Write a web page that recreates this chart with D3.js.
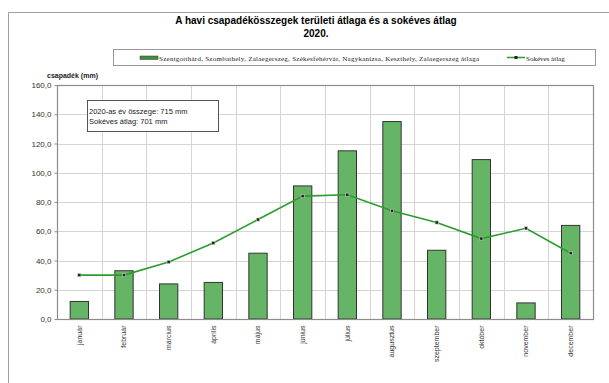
<!DOCTYPE html>
<html lang="hu">
<head>
<meta charset="utf-8">
<title>Havi csapadékösszegek 2020</title>
<script src="https://cdnjs.cloudflare.com/ajax/libs/d3/7.8.5/d3.min.js"></script>
<style>
  body { margin: 0; background: #fff; }
  svg { display: block; }
  .grid line { stroke: #d4d4d4; stroke-width: 1; }
  .y-axis text { font: 8px "Liberation Sans", Arial, sans-serif; fill: #333; }
  .x-axis text { font: 7px "Liberation Sans", Arial, sans-serif; fill: #333; }
</style>
</head>
<body>
<div id="chart"></div>
<script>
// data
const months = ["január", "február", "március", "április", "május", "június",
  "július", "augusztus", "szeptember", "október", "november", "december"];
const rain2020 = [12, 33, 24, 25, 45, 91, 115, 135, 47, 109, 11, 64];
const longTerm = [30, 30, 39, 52, 68, 84, 85, 74, 66, 55, 62, 45];
const yTicks = [0, 20, 40, 60, 80, 100, 120, 140, 160];

const W = 609, H = 383;
const plot = {left: 57, right: 593, top: 85, bottom: 319};

const svg = d3.select("#chart").append("svg")
  .attr("width", W).attr("height", H);

// outer frame
svg.append("path")
  .attr("d", `M8.5,${H} V12.5 H${W}`)
  .attr("fill", "none").attr("stroke", "#a0a0a0");

// title
svg.append("text")
  .attr("x", 316).attr("y", 24)
  .attr("text-anchor", "middle")
  .style("font", "bold 10px 'Liberation Sans', Arial, sans-serif")
  .text("A  havi csapadékösszegek területi átlaga és a sokéves átlag");
svg.append("text")
  .attr("x", 316).attr("y", 37)
  .attr("text-anchor", "middle")
  .style("font", "bold 10px 'Liberation Sans', Arial, sans-serif")
  .text("2020.");

// legend
const lg = svg.append("g");
lg.append("rect").attr("x", 113.5).attr("y", 49.5).attr("width", 482).attr("height", 16)
  .attr("fill", "#fff").attr("stroke", "#999");
lg.append("rect").attr("x", 140).attr("y", 56).attr("width", 18).attr("height", 3.5)
  .attr("fill", "#3f8f3f").attr("stroke", "#333").attr("stroke-width", 0.5);
lg.append("text").attr("x", 159).attr("y", 60.5)
  .attr("textLength", 320).attr("lengthAdjust", "spacing")
  .style("font", "7px 'Liberation Serif', 'Times New Roman', serif").attr("fill", "#222")
  .text("Szentgotthárd, Szombathely, Zalaegerszeg, Székesfehérvár, Nagykanizsa, Keszthely, Zalaegerszeg átlaga");
lg.append("line").attr("x1", 507).attr("x2", 525).attr("y1", 57.5).attr("y2", 57.5)
  .attr("stroke", "#2a9d2a").attr("stroke-width", 1.5);
lg.append("rect").attr("x", 514.5).attr("y", 56).attr("width", 3).attr("height", 3).attr("fill", "#222");
lg.append("text").attr("x", 526).attr("y", 60.5)
  .style("font", "7px 'Liberation Serif', 'Times New Roman', serif").attr("fill", "#222")
  .text("Sokéves átlag");

// y label
svg.append("text").attr("x", 47).attr("y", 78)
  .style("font", "bold 7px 'Liberation Sans', Arial, sans-serif").attr("fill", "#222")
  .text("csapadék (mm)");

// scales
const x = d3.scaleBand().domain(months).range([plot.left, plot.right]);
const y = d3.scaleLinear().domain([0, 160]).range([plot.bottom, plot.top]);

// grid
const grid = svg.append("g").attr("class", "grid");
grid.selectAll("line.h").data(yTicks).enter().append("line")
  .attr("class", "h")
  .attr("x1", plot.left).attr("x2", plot.right)
  .attr("y1", d => Math.round(y(d)) + 0.5).attr("y2", d => Math.round(y(d)) + 0.5);
grid.selectAll("line.v").data(months.slice(1)).enter().append("line")
  .attr("class", "v")
  .attr("x1", d => Math.round(x(d)) + 0.5).attr("x2", d => Math.round(x(d)) + 0.5)
  .attr("y1", plot.top).attr("y2", plot.bottom);

// bars
const barW = x.bandwidth() * 0.41;
svg.append("g").selectAll("rect").data(rain2020).enter().append("rect")
  .attr("x", (d, i) => x(months[i]) + (x.bandwidth() - barW) / 2)
  .attr("y", d => y(d))
  .attr("width", barW)
  .attr("height", d => plot.bottom - y(d))
  .attr("fill", "#66b566")
  .attr("stroke", "#333")
  .attr("stroke-width", 1);

// plot border
svg.append("rect")
  .attr("x", plot.left + 0.5).attr("y", plot.top + 0.5)
  .attr("width", plot.right - plot.left).attr("height", plot.bottom - plot.top)
  .attr("fill", "none").attr("stroke", "#8c8c8c").attr("stroke-width", 1.2);

// line
const cx = (d, i) => x(months[i]) + x.bandwidth() / 2;
svg.append("path").datum(longTerm)
  .attr("fill", "none")
  .attr("stroke", "#2a9d2a")
  .attr("stroke-width", 1.6)
  .attr("d", d3.line().x(cx).y(d => y(d)));
svg.append("g").selectAll("rect").data(longTerm).enter().append("rect")
  .attr("x", (d, i) => cx(d, i) - 1.6)
  .attr("y", d => y(d) - 1.6)
  .attr("width", 3.2).attr("height", 3.2)
  .attr("fill", "#222")
  .attr("stroke", "#cfcfcf").attr("stroke-width", 0.6);

// axes
const yAxis = d3.axisLeft(y).tickValues(yTicks).tickSize(3).tickPadding(3)
  .tickFormat(d => d3.format(".1f")(d).replace(".", ","));
svg.append("g").attr("class", "y-axis")
  .attr("transform", `translate(${plot.left + 0.5},0)`)
  .call(yAxis)
  .call(g => g.select(".domain").remove())
  .call(g => g.selectAll("line").attr("stroke", "#8c8c8c"));

const xAxis = d3.axisBottom(x).tickSize(3).tickPadding(3);
svg.append("g").attr("class", "x-axis")
  .attr("transform", `translate(0,${plot.bottom + 0.5})`)
  .call(xAxis)
  .call(g => g.select(".domain").remove())
  .call(g => g.selectAll("line").remove())
  .call(g => g.selectAll("text")
    .attr("transform", "rotate(-90)")
    .attr("text-anchor", "end")
    .attr("x", -6).attr("y", 0).attr("dy", "0.32em"));

// annotation box
svg.append("rect").attr("x", 87.5).attr("y", 100.5).attr("width", 131).attr("height", 31)
  .attr("fill", "#fff").attr("stroke", "#555");
svg.append("text").attr("x", 89).attr("y", 114)
  .style("font", "7.5px 'Liberation Sans', Arial, sans-serif").attr("fill", "#222")
  .text("2020-as év összege:  715 mm");
svg.append("text").attr("x", 89).attr("y", 124)
  .style("font", "7.5px 'Liberation Sans', Arial, sans-serif").attr("fill", "#222")
  .text("Sokéves átlag: 701 mm");
</script>
</body>
</html>
